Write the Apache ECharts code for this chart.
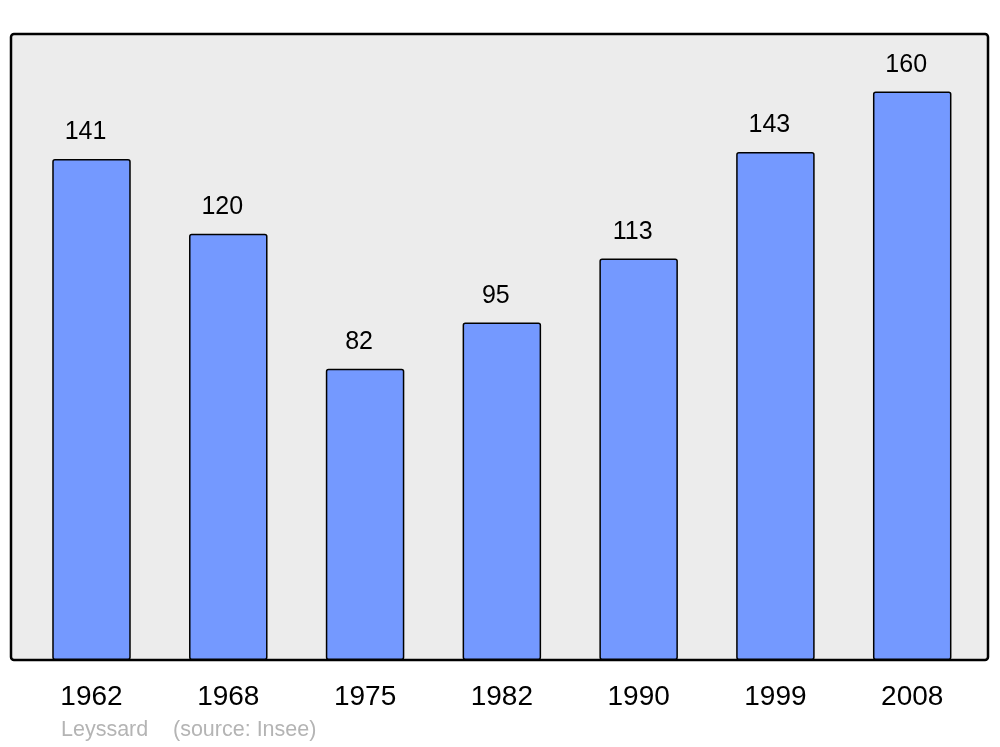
<!DOCTYPE html>
<html><head><meta charset="utf-8">
<script src="https://cdn.jsdelivr.net/npm/echarts@6/dist/echarts.min.js"></script>
<style>html,body{margin:0;padding:0;background:#fff}#c{width:1000px;height:747px}</style>
</head><body><div id="c"></div>
<script>
const years = ['1962','1968','1975','1982','1990','1999','2008'];
const population = [141,120,82,95,113,143,160];
const footerAuthor = 'Leyssard';
const footerSource = '(source: Insee)';

const chart = echarts.init(document.getElementById('c'), null, {renderer:'canvas'});
chart.setOption({
  animation:false,
  backgroundColor:'#ffffff',
  textStyle:{fontFamily:'Liberation Sans, Arial, sans-serif'},
  title:[
    {text:footerAuthor, left:61, top:719, textStyle:{fontSize:21.5, fontWeight:'normal', color:'#b4b4b4', fontFamily:'Liberation Sans'}, padding:0},
    {text:footerSource, left:173, top:719, textStyle:{fontSize:21.5, fontWeight:'normal', color:'#b4b4b4', fontFamily:'Liberation Sans'}, padding:0}
  ],
  graphic:[{
    type:'rect', z:-10, silent:true,
    shape:{x:11, y:34, width:977, height:626, r:3},
    style:{fill:'#ececec', stroke:'#000', lineWidth:2.5}
  }],
  grid:{left:23.1, width:957.5, top:34, height:626},
  xAxis:{
    type:'category', data:years,
    axisLine:{show:false}, axisTick:{show:false},
    axisLabel:{fontSize:28, color:'#000', margin:23, fontFamily:'Liberation Sans'}
  },
  yAxis:{
    type:'value', min:0, max:176.2, show:false, splitLine:{show:false}
  },
  series:[{
    type:'bar', data:population, barWidth:78.5,
    itemStyle:{color:'#7499ff', borderColor:'#000', borderWidth:1.5, borderRadius:2},
    label:{show:true, position:'top', distance:14, offset:[-6,0], fontSize:25, color:'#000', fontFamily:'Liberation Sans'}
  }]
});
</script></body></html>
